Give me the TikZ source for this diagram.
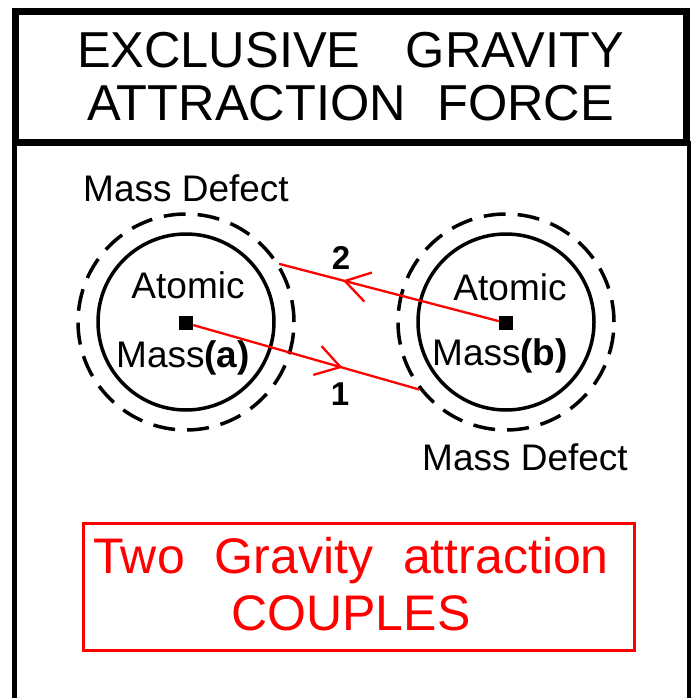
\documentclass[tikz,border=0pt]{standalone}
\usepackage{fontspec}
\setmainfont{Liberation Sans}
\usetikzlibrary{arrows.meta,positioning,decorations.markings}
\definecolor{Couple}{HTML}{FF0000}

\begin{document}
\begin{tikzpicture}[x=1pt,y=-1pt,
    ring/.style={draw,circle,line width=3.5pt,minimum size=176pt,inner sep=0pt},
    defect/.style={draw,circle,line width=3.5pt,dash pattern=on 22pt off 12pt,
      minimum size=216pt,inner sep=0pt},
    core/.style={fill=black,minimum size=14pt,inner sep=0pt},
    lbl/.style={font=\fontsize{37}{44}\selectfont,inner sep=0pt,anchor=base},
    num/.style={font=\fontsize{33}{38}\selectfont\bfseries,inner sep=0pt},
    pull/.style={Couple,line width=2.3pt,postaction={decorate},
      decoration={markings,mark=at position #1 with
        {\arrow{Straight Barb[length=24pt,width=30pt]}}}},
    >=Stealth]
  \useasboundingbox (0,0) rectangle (694,698);
  % header and frame
  \node[draw,line width=7pt,minimum width=671pt,minimum height=130pt,align=center,
    font=\fontsize{50.5}{53}\selectfont,inner sep=0pt] (title) at (350.5,77)
    {EXCLUSIVE\hspace{0.9em}GRAVITY\\ATTRACTION\hspace{0.62em}FORCE};
  \draw[line width=4.5pt] (14.5,705) -- (14.5,143) -- (689,143) -- (689,705);
  % the two masses
  \node[ring] (ata) at (186,322) {};
  \node[defect] (defa) at (186,322) {};
  \node[ring] (atb) at (506,322) {};
  \node[defect] (defb) at (506,322) {};
  \node[core] (sqa) at (186,323) {};
  \node[core] (sqb) at (506,323) {};
  \node[lbl] (mda) at (186,201) {Mass Defect};
  \node[lbl] (mdb) at (525,470) {Mass Defect};
  \node[lbl] (atoma) at (188,298) {Atomic};
  \node[lbl] (massa) at (183,367) {Mass\textbf{(a)}};
  \node[lbl] (atomb) at (510,300) {Atomic};
  \node[lbl] (massb) at (500,365) {Mass\textbf{(b)}};
  % couples
  \draw[pull=0.66] (sqa) -- (defb.218);
  \draw[pull=0.71] (sqb) -- (defa.32);
  \node[num] (one) at (340,394) {1};
  \node[num] (two) at (341,258) {2};
  % bottom box
  \node[draw=Couple,line width=3pt,minimum width=551pt,minimum height=127pt]
    (couplebox) at (359,587) {};
  \node[align=center,text=Couple,font=\fontsize{50}{57}\selectfont,inner sep=0pt]
    (couples) at (351,584) {Two\hspace{0.6em}Gravity\hspace{0.6em}attraction\\COUPLES};
\end{tikzpicture}
\end{document}
